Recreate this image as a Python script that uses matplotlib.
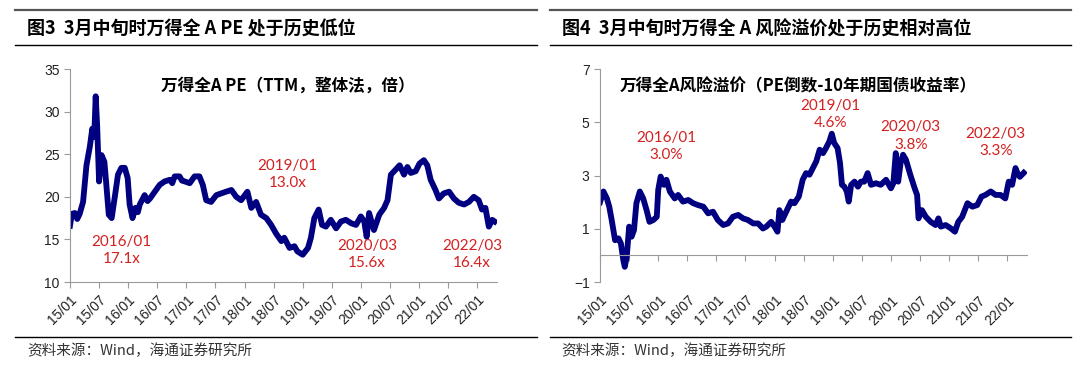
import matplotlib
matplotlib.use('Agg')
import matplotlib.pyplot as plt
from matplotlib.lines import Line2D

# 横轴：自 2015/01 起的月数
pe_month = [0, 0.4, 1, 1.5, 2, 2.7, 3.4, 4.1, 4.6, 5.0, 5.3, 5.6, 6.0, 6.5, 7.1, 7.5,
            8.0, 8.6, 9.3, 9.9, 10.6, 11.3, 11.9, 12.3, 12.9, 13.5, 14.0, 14.4, 15.4,
            16.0, 16.5, 17.5, 18.5, 19.5, 20.6, 21.1, 21.6, 22.6, 23.1, 23.7, 24.7,
            25.7, 26.7, 27.4, 28.1, 29.1, 30.2, 31.2, 32.2, 33.3, 34.3, 35.3, 36.6,
            37.4, 38.4, 39.4, 40.5, 41.5, 42.5, 43.6, 44.2, 45.3, 46.3, 46.9, 48.0,
            49.1, 49.7, 50.4, 51.3, 52.0, 52.8, 53.8, 54.9, 55.9, 56.9, 58.0, 59.0,
            60.0, 60.7, 61.2, 61.7, 62.7, 63.8, 64.8, 65.5, 66.2, 67.2, 68.0, 68.9,
            69.6, 70.3, 71.3, 72.1, 73.0, 73.7, 74.4, 75.4, 76.1, 77.1, 78.2, 79.2,
            80.2, 81.3, 82.3, 83.3, 84.3, 85.0, 85.7, 86.4, 87.1, 87.6]
pe_value = [16.6, 18.0, 18.1, 17.4, 18.0, 19.4, 23.7, 25.9, 28.0, 27.0, 31.8, 28.4,
            21.8, 24.9, 24.1, 21.4, 17.9, 17.5, 20.2, 22.6, 23.4, 23.4, 22.2, 19.1,
            17.5, 18.7, 18.2, 19.1, 20.2, 19.5, 19.8, 20.6, 21.4, 21.8, 22.0, 21.6,
            22.4, 22.4, 21.9, 21.8, 21.6, 22.4, 22.4, 21.4, 19.6, 19.4, 20.2, 20.4,
            20.6, 20.8, 20.0, 19.6, 20.6, 18.7, 19.4, 17.9, 17.5, 16.7, 15.7, 14.8,
            15.2, 14.0, 14.2, 13.6, 13.2, 14.0, 15.2, 17.5, 18.5, 16.7, 16.5, 17.3,
            16.3, 17.1, 17.3, 16.9, 16.7, 17.7, 17.1, 15.3, 18.1, 16.1, 17.9, 18.7,
            19.6, 22.6, 23.2, 23.7, 22.6, 23.5, 22.8, 23.0, 23.9, 24.3, 23.7, 22.0,
            20.8, 19.8, 20.4, 20.6, 19.8, 19.3, 19.1, 19.4, 20.0, 19.6, 18.5, 18.7,
            16.5, 17.3, 17.1]

erp_month = [0, 0.7, 1.4, 1.9, 2.4, 3.1, 3.8, 4.3, 4.8, 5.1, 5.5, 6.0, 6.5, 7.0, 7.5,
             8.2, 8.9, 9.6, 10.2, 11.0, 11.7, 12.0, 12.5, 13.2, 13.7, 14.4, 15.4,
             16.1, 17.1, 18.2, 19.2, 20.2, 21.3, 22.3, 23.3, 24.3, 25.4, 26.4, 27.4,
             28.5, 29.5, 30.5, 31.6, 32.6, 33.6, 34.3, 35.3, 36.0, 36.6, 37.0, 37.6,
             38.4, 39.4, 40.1, 41.0, 41.8, 42.5, 43.2, 43.9, 44.6, 45.3, 46.0, 46.6,
             47.3, 47.8, 48.3, 49.0, 49.5, 49.9, 50.4, 50.9, 51.3, 51.8, 52.5, 53.2,
             53.8, 54.5, 55.2, 55.9, 56.9, 57.9, 59.0, 60.0, 60.5, 61.0, 61.5, 62.0,
             62.5, 63.1, 64.0, 64.9, 65.4, 65.7, 66.4, 67.2, 68.2, 69.2, 69.8, 70.3,
             71.3, 72.4, 73.2, 73.9, 74.7, 75.8, 76.8, 77.8, 78.7, 79.5, 80.6, 81.6,
             82.6, 83.6, 84.3, 85.0, 85.7, 86.1, 86.6, 87.4]
erp_value = [2.0, 2.4, 2.14, 1.83, 1.33, 0.57, 0.64, 0.45, -0.18, -0.43, -0.06, 1.08,
             0.70, 0.95, 1.96, 2.40, 2.14, 1.70, 1.26, 1.33, 1.45, 2.46, 2.96, 2.65,
             2.84, 2.40, 2.14, 2.27, 2.02, 2.08, 1.96, 1.89, 1.83, 1.58, 1.64, 1.33,
             1.14, 1.20, 1.45, 1.52, 1.39, 1.33, 1.20, 1.20, 1.01, 1.08, 1.26, 1.08,
             0.89, 1.70, 1.33, 1.64, 2.02, 1.96, 2.21, 2.84, 3.09, 3.03, 3.28, 3.53,
             3.97, 3.84, 4.03, 4.28, 4.57, 4.22, 4.03, 3.47, 2.65, 2.58, 2.40, 2.02,
             2.65, 2.77, 2.58, 2.77, 2.77, 3.09, 2.65, 2.71, 2.65, 2.84, 2.52, 2.71,
             3.84, 2.77, 3.47, 3.78, 3.59, 3.03, 2.52, 2.27, 1.39, 1.70, 1.45, 1.26,
             1.14, 1.39, 1.08, 1.14, 1.01, 0.89, 1.26, 1.45, 1.96, 1.83, 1.89, 2.21,
             2.27, 2.40, 2.27, 2.27, 2.14, 2.77, 2.65, 3.28, 3.09, 2.95, 3.1]

tick_labels = ['15/01', '15/07', '16/01', '16/07', '17/01', '17/07', '18/01', '18/07',
               '19/01', '19/07', '20/01', '20/07', '21/01', '21/07', '22/01']

# 标注：(月数, 数值, 文本)
pe_notes = [(10.6, 13.7, '2016/01\n17.1x'), (44.9, 22.6, '2019/01\n13.0x'),
            (61.3, 13.2, '2020/03\n15.6x'), (82.9, 13.2, '2022/03\n16.4x')]
erp_notes = [(13.6, 4.09, '2016/01\n3.0%'), (47.5, 5.30, '2019/01\n4.6%'),
             (64.1, 4.48, '2020/03\n3.8%'), (81.6, 4.25, '2022/03\n3.3%')]

CJK = ['Noto Sans CJK SC', 'DejaVu Sans']
plt.rcParams['font.family'] = ['Liberation Sans', 'DejaVu Sans']
LINE = '#000080'
RED = '#D42020'
GRAY = '#9a9a9a'

fig = plt.figure(figsize=(10.8, 3.7), dpi=100)


def panel_frame(x0, x1, title):
    # 标题上下的横线、底部来源
    fig.add_artist(Line2D([x0, x1], [0.972, 0.972], color='#555555', lw=1.6))
    fig.add_artist(Line2D([x0, x1], [0.878, 0.878], color='black', lw=1.0))
    fig.add_artist(Line2D([x0, x1], [0.089, 0.089], color='black', lw=1.0))
    fig.text(x0 + 0.011, 0.922, title, family=CJK, fontsize=13, fontweight='bold',
             va='center', ha='left')
    fig.text(x0 + 0.011, 0.052, '资料来源：Wind，海通证券研究所', family=CJK,
             fontsize=10.5, color='#333333', va='center', ha='left')


def style_axes(ax):
    for s in ['top', 'right']:
        ax.spines[s].set_visible(False)
    for s in ['left', 'bottom']:
        ax.spines[s].set_color(GRAY)
    ax.tick_params(axis='both', colors=GRAY, labelcolor='#222222', labelsize=10,
                   length=4, direction='out')
    ax.set_xlim(0, 88)


panel_frame(0.014, 0.497, '图3  3月中旬时万得全 A PE 处于历史低位')
panel_frame(0.509, 0.992, '图4  3月中旬时万得全 A 风险溢价处于历史相对高位')

# 左图：PE
ax1 = fig.add_axes([0.0648, 0.2378, 0.395, 0.5757])
ax1.plot(pe_month, pe_value, color=LINE, lw=4.2, solid_joinstyle='round')
style_axes(ax1)
ax1.set_ylim(10, 35)
ax1.set_yticks([10, 15, 20, 25, 30, 35])
ax1.set_xticks(range(0, 85, 6))
ax1.set_xticklabels(tick_labels, rotation=45, ha='right', rotation_mode='anchor')
ax1.text(0.51, 0.92, '万得全A PE（TTM，整体法，倍）', transform=ax1.transAxes,
         family=CJK, fontsize=12, fontweight='bold', ha='center', va='center')
for m, v, t in pe_notes:
    ax1.text(m, v, t, color=RED, family=['Lato', 'DejaVu Sans'], fontsize=11,
             ha='center', va='center', linespacing=1.3)

# 右图：风险溢价，横轴穿过 0
ax2 = fig.add_axes([0.5556, 0.2378, 0.395, 0.5757])
ax2.plot(erp_month, erp_value, color=LINE, lw=4.2, solid_joinstyle='round')
style_axes(ax2)
ax2.set_ylim(-1, 7)
ax2.set_yticks([-1, 1, 3, 5, 7])
ax2.spines['bottom'].set_position(('data', 0))
ax2.set_xticks(range(0, 85, 6))
ax2.tick_params(axis='x', labelbottom=False)
sec = ax2.secondary_xaxis(0.0)
sec.spines['bottom'].set_visible(False)
sec.set_xticks(range(0, 85, 6))
sec.set_xticklabels(tick_labels, rotation=45, ha='right', rotation_mode='anchor')
sec.tick_params(axis='x', length=0, pad=8, labelsize=10, labelcolor='#222222')
ax2.text(0.465, 0.92, '万得全A风险溢价（PE倒数-10年期国债收益率）', transform=ax2.transAxes,
         family=CJK, fontsize=12, fontweight='bold', ha='center', va='center')
for m, v, t in erp_notes:
    ax2.text(m, v, t, color=RED, family=['Lato', 'DejaVu Sans'], fontsize=11,
             ha='center', va='center', linespacing=1.3)

fig.savefig('out.png', dpi=100)
